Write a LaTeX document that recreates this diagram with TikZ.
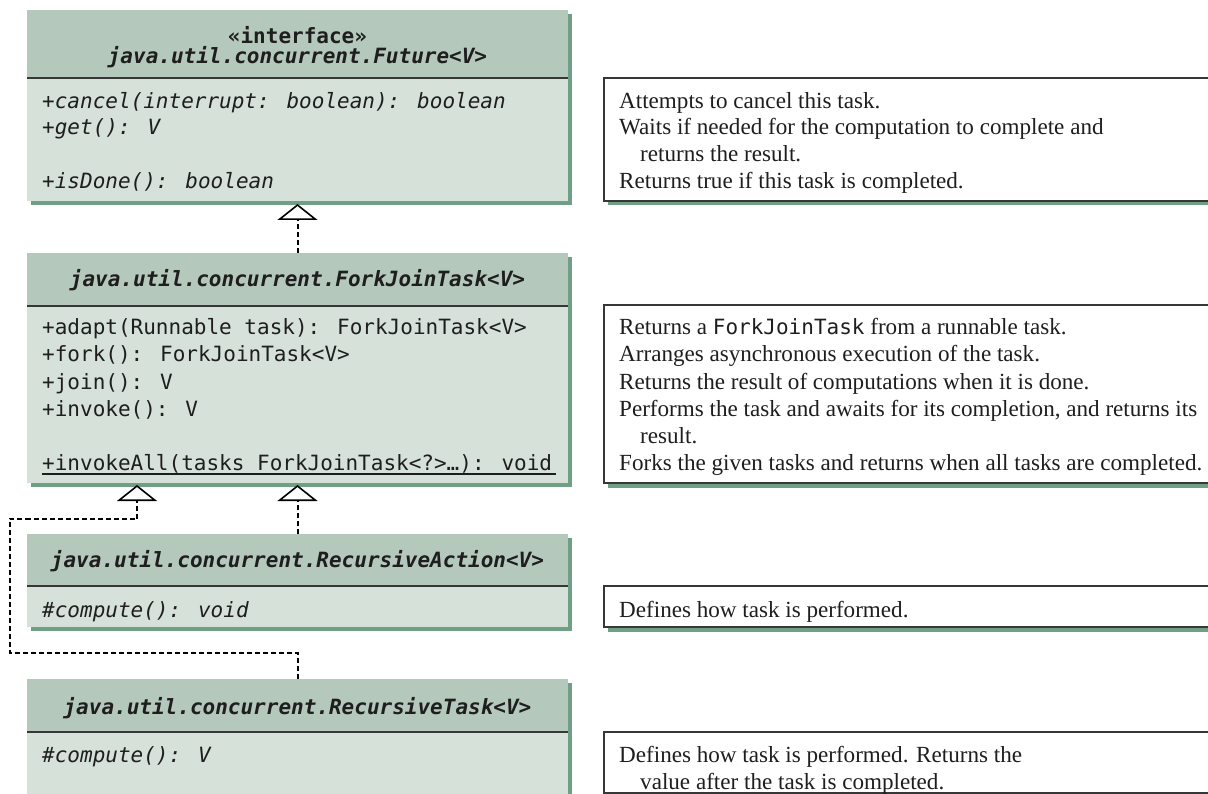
\documentclass[tikz,border=0pt]{standalone}
\usepackage{fontspec}
\setmainfont{Liberation Serif}
\newfontfamily\umlfont{DejaVu Sans Mono}
\usetikzlibrary{arrows.meta}
\definecolor{hdr}{RGB}{180,200,187}
\definecolor{bdy}{RGB}{214,225,217}
\definecolor{shd}{RGB}{111,160,133}
\definecolor{ink}{RGB}{30,30,30}
\definecolor{brd}{RGB}{55,55,55}
\begin{document}
\begin{tikzpicture}[x=1pt,y=-1pt,
  hdrbox/.style={fill=hdr, draw=none, minimum width=541pt, inner sep=0pt, outer sep=0pt, anchor=north west},
  bdybox/.style={fill=bdy, draw=none, minimum width=541pt, inner sep=0pt, outer sep=0pt, anchor=north west},
  descbox/.style={fill=white, draw=brd, line width=1.3pt, minimum width=640pt, inner sep=0pt, outer sep=0pt, anchor=north west},
  sepline/.style={draw=brd, line width=1.3pt},
  mono/.style={font=\umlfont\fontsize{21}{26}\selectfont, text=ink, inner sep=0pt, anchor=base west},
  monoit/.style={font=\umlfont\fontsize{21}{26}\selectfont\itshape, text=ink, inner sep=0pt, anchor=base west},
  ttl/.style={font=\umlfont\fontsize{21}{26}\selectfont\bfseries\itshape, text=ink, inner sep=0pt, anchor=base},
  stereo/.style={font=\umlfont\fontsize{21}{26}\selectfont\bfseries, text=ink, inner sep=0pt, anchor=base},
  desc/.style={font=\fontsize{23.1}{26}\selectfont, text=ink, inner sep=0pt, anchor=base west},
  dep/.style={draw=black, line width=2pt, dash pattern=on 5pt off 3pt,
    -{Triangle[length=16pt,width=40pt,fill=white,line width=1.6pt]}},
]
\useasboundingbox (0,0) rectangle (1208,794);
\clip (0,0) rectangle (1208,794);

% ---------- shadows of class boxes ----------
\fill[shd] (31,14) rectangle (572,205);
\fill[shd] (31,257) rectangle (572,487);
\fill[shd] (31,538) rectangle (572,631);
\fill[shd] (31,683) rectangle (572,810);

% ---------- Future ----------
\node[hdrbox, minimum height=68pt] (fh) at (27,10) {};
\node[bdybox, minimum height=123pt] (fb) at (27,78) {};
\draw[sepline] (fh.south west) -- (fh.south east);
\node[stereo] (ft1) at (297.5,44) {«interface»};
\node[ttl] (ft2) at (297.5,64) {java.util.concurrent.Future<V>};
\node[monoit] (fm1) at (42,109) {+cancel(interrupt: boolean): boolean};
\node[monoit] (fm2) at (42,135) {+get(): V};
\node[monoit] (fm3) at (42,189) {+isDone(): boolean};

% ---------- ForkJoinTask ----------
\node[hdrbox, minimum height=53pt] (jh) at (27,253) {};
\node[bdybox, minimum height=177pt] (jb) at (27,306) {};
\draw[sepline] (jh.south west) -- (jh.south east);
\node[ttl] (jt) at (297.5,287) {java.util.concurrent.ForkJoinTask<V>};
\node[mono] (jm1) at (42,335) {+adapt(Runnable task): ForkJoinTask<V>};
\node[mono] (jm2) at (42,362) {+fork(): ForkJoinTask<V>};
\node[mono] (jm3) at (42,389) {+join(): V};
\node[mono] (jm4) at (42,416) {+invoke(): V};
\node[mono] (jm5) at (42,470) {+invokeAll(tasks ForkJoinTask<?>…): void};
\draw[ink, line width=1.1pt] ([yshift=-4pt]jm5.base west) -- ([xshift=4pt,yshift=-4pt]jm5.base east);

% ---------- RecursiveAction ----------
\node[hdrbox, minimum height=52pt] (ah) at (27,534) {};
\node[bdybox, minimum height=41pt] (ab) at (27,586) {};
\draw[sepline] (ah.south west) -- (ah.south east);
\node[ttl] (at1) at (297.5,567) {java.util.concurrent.RecursiveAction<V>};
\node[monoit] (am1) at (42,617) {\#compute(): void};

% ---------- RecursiveTask ----------
\node[hdrbox, minimum height=53pt] (th) at (27,679) {};
\node[bdybox, minimum height=80pt] (tb) at (27,732) {};
\draw[sepline] (th.south west) -- (th.south east);
\node[ttl] (tt1) at (297.5,714) {java.util.concurrent.RecursiveTask<V>};
\node[monoit] (tm1) at (42,762) {\#compute(): V};

% ---------- description boxes ----------
\fill[shd] (608,200) rectangle (1210,205.5);
\node[descbox, minimum height=123pt] (d1) at (604,78) {};
\fill[shd] (608,482) rectangle (1210,487.5);
\node[descbox, minimum height=178pt] (d2) at (604,305) {};
\fill[shd] (608,626) rectangle (1210,631.5);
\node[descbox, minimum height=41pt] (d3) at (604,586) {};
\node[descbox, minimum height=61pt] (d4) at (604,732) {};

\node[desc] (d1a) at (619,109) {Attempts to cancel this task.};
\node[desc] (d1b) at (619,135) {Waits if needed for the computation to complete and};
\node[desc] (d1c) at (640,162) {returns the result.};
\node[desc] (d1d) at (619,189) {Returns true if this task is completed.};

\node[desc] (d2a) at (619,335) {Returns a {\umlfont\fontsize{21}{26}\selectfont ForkJoinTask} from a runnable task.};
\node[desc] (d2b) at (619,362) {Arranges asynchronous execution of the task.};
\node[desc] (d2c) at (619,389) {Returns the result of computations when it is done.};
\node[desc] (d2d) at (619,416) {Performs the task and awaits for its completion, and returns its};
\node[desc] (d2e) at (640,443) {result.};
\node[desc] (d2f) at (619,470) {Forks the given tasks and returns when all tasks are completed.};

\node[desc] (d3a) at (619,617) {Defines how task is performed.};

\node[desc] (d4a) at (619,762) {Defines how task is performed. Returns the};
\node[desc] (d4b) at (640,789) {value after the task is completed.};

% ---------- connectors ----------
\coordinate (lA) at (9.5,653);
\coordinate (jB) at (137,519);
\coordinate (tipL) at (137,485);
\draw[dep] (jh.north) -- ([yshift=-3pt]fb.south);
\draw[dep] (ah.north) -- ([yshift=-2pt]jb.south);
\draw[dep] (th.north) |- (lA) |- (jB) -- (tipL);
\end{tikzpicture}
\end{document}
